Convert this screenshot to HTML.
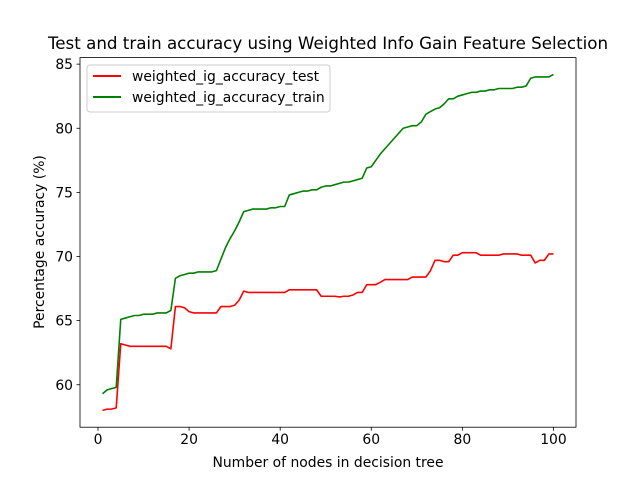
<!DOCTYPE html>
<html><head><meta charset="utf-8"><style>
body{margin:0;background:#fff;}
svg text{font-family:"DejaVu Sans","Liberation Sans",sans-serif;fill:#000;}
</style></head><body>
<svg id="chart" width="640" height="480" viewBox="0 0 640 480" xmlns="http://www.w3.org/2000/svg">
<rect width="640" height="480" fill="#fff"/>
<text x="328" y="49" font-size="16.7" text-anchor="middle">Test and train accuracy using Weighted Info Gain Feature Selection</text>
<g id="plot"></g>
<rect x="80" y="57.6" width="496" height="369.6" fill="none" stroke="#000" stroke-width="0.8"/>
<text x="328" y="467" font-size="13.9" text-anchor="middle">Number of nodes in decision tree</text>
<text transform="translate(44,242) rotate(-90)" font-size="13.9" text-anchor="middle">Percentage accuracy (%)</text>
<g>
<rect x="87" y="65" width="243" height="47" rx="3" fill="#fff" fill-opacity="0.8" stroke="#ccc" stroke-width="1"/>
<line x1="93" y1="76" x2="121" y2="76" stroke="red" stroke-width="2"/>
<text x="132" y="81" font-size="13.9">weighted_ig_accuracy_test</text>
<line x1="93" y1="97" x2="121" y2="97" stroke="green" stroke-width="2"/>
<text x="132" y="102" font-size="13.9">weighted_ig_accuracy_train</text>
</g>
</svg>
<script>
const trainValues=[59.3,59.6,59.7,59.8,65.1,65.2,65.3,65.4,65.4,65.5,
65.5,65.5,65.6,65.6,65.6,65.8,68.3,68.5,68.6,68.7,
68.7,68.8,68.8,68.8,68.8,68.9,69.8,70.7,71.4,72.0,
72.7,73.5,73.6,73.7,73.7,73.7,73.7,73.8,73.8,73.9,
73.9,74.8,74.9,75.0,75.1,75.1,75.2,75.2,75.4,75.5,
75.5,75.6,75.7,75.8,75.8,75.9,76.0,76.1,76.9,77.0,
77.5,78.0,78.4,78.8,79.2,79.6,80.0,80.1,80.2,80.2,
80.5,81.1,81.3,81.5,81.6,81.9,82.3,82.3,82.5,82.6,
82.7,82.8,82.8,82.9,82.9,83.0,83.0,83.1,83.1,83.1,
83.1,83.2,83.2,83.3,83.9,84.0,84.0,84.0,84.0,84.2];
const testValues=[58.0,58.1,58.1,58.2,63.2,63.1,63.0,63.0,63.0,63.0,
63.0,63.0,63.0,63.0,63.0,62.8,66.1,66.1,66.0,65.7,
65.6,65.6,65.6,65.6,65.6,65.6,66.1,66.1,66.1,66.2,
66.6,67.3,67.2,67.2,67.2,67.2,67.2,67.2,67.2,67.2,
67.2,67.4,67.4,67.4,67.4,67.4,67.4,67.4,66.9,66.9,
66.9,66.9,66.85,66.9,66.9,67.0,67.2,67.2,67.8,67.8,
67.8,68.0,68.2,68.2,68.2,68.2,68.2,68.2,68.4,68.4,
68.4,68.4,68.9,69.7,69.7,69.6,69.6,70.1,70.1,70.3,
70.3,70.3,70.3,70.1,70.1,70.1,70.1,70.1,70.2,70.2,
70.2,70.2,70.1,70.1,70.1,69.5,69.7,69.7,70.2,70.2];
const xTicks=[0,20,40,60,80,100];
const yTicks=[60,65,70,75,80,85];

const NS="http://www.w3.org/2000/svg";
const L=80,R=576,T=57.6,B=427.2;
const xMin=-3.95,xMax=104.95,yMin=56.69,yMax=85.51;
function xs(v){return L+(v-xMin)/(xMax-xMin)*(R-L);}
function ys(v){return B-(v-yMin)/(yMax-yMin)*(B-T);}
const g=document.getElementById('plot');
function mk(tag,attrs){const e=document.createElementNS(NS,tag);for(const k in attrs)e.setAttribute(k,attrs[k]);g.appendChild(e);return e;}
xTicks.forEach(t=>{
  const x=xs(t);
  const ln=mk('line',{x1:x,x2:x,y1:B,y2:B+3.5,stroke:'#000','stroke-width':0.8});
  
  
  const tx=mk('text',{x:x,y:B+17,'font-size':13.9,'text-anchor':'middle'});
  tx.textContent=t;
  
  
});
yTicks.forEach(t=>{
  const y=ys(t);
  const ln=mk('line',{x1:L-3.5,x2:L,y1:y,y2:y,stroke:'#000','stroke-width':0.8});
  
  
  const tx=mk('text',{x:L-7,y:y+5,'font-size':13.9,'text-anchor':'end'});
  tx.textContent=t;
  
  
});
function line(vals,color,name){
  const d=vals.map((v,i)=>(i?'L':'M')+xs(i+1).toFixed(2)+','+ys(v).toFixed(2)).join('');
  const p=mk('path',{d:d,fill:'none',stroke:color,'stroke-width':1.6,'stroke-linejoin':'round'});
  
  
}
line(testValues,'red','test-accuracy-line');
line(trainValues,'green','train-accuracy-line');
</script>
</body></html>
